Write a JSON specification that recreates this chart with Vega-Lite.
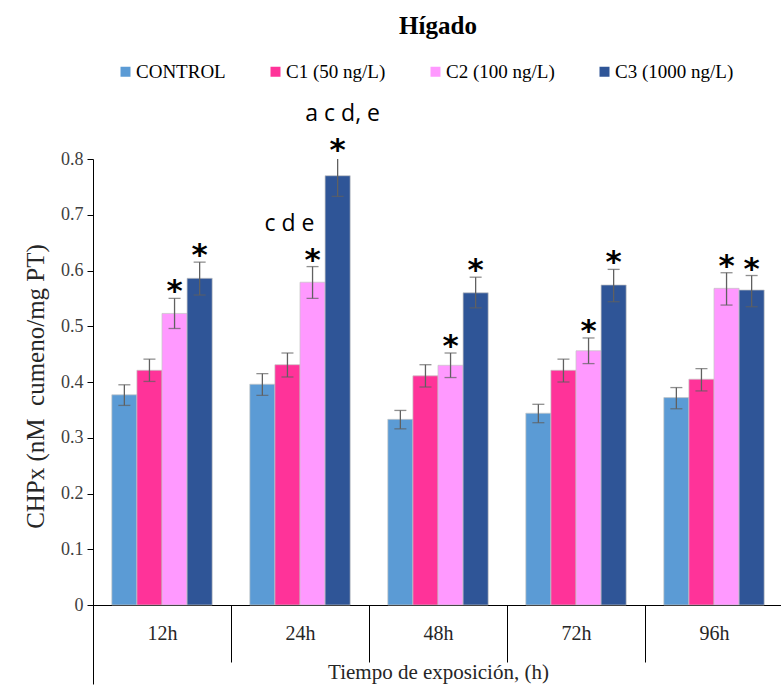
{
  "$schema": "https://vega.github.io/schema/vega-lite/v6.json",
  "width": 690,
  "height": 525,
  "autosize": {"type": "none"},
  "padding": {"left": 93, "top": 159, "right": 0, "bottom": 2},
  "title": {"text": "Hígado", "font": "Liberation Serif", "fontSize": 25, "fontWeight": "bold", "color": "#000000", "anchor": "middle", "offset": 23},
  "config": {"view": {"stroke": null}, "axis": {"grid": false}},
  "data": {"values": [
    {"t": "12h", "g": "CONTROL", "v": 0.377, "lo": 0.358, "hi": 0.395, "s": "", "L": ""},
    {"t": "12h", "g": "C1 (50 ng/L)", "v": 0.421, "lo": 0.401, "hi": 0.441, "s": "", "L": ""},
    {"t": "12h", "g": "C2 (100 ng/L)", "v": 0.523, "lo": 0.496, "hi": 0.550, "s": "*", "L": ""},
    {"t": "12h", "g": "C3 (1000 ng/L)", "v": 0.586, "lo": 0.556, "hi": 0.615, "s": "*", "L": ""},
    {"t": "24h", "g": "CONTROL", "v": 0.396, "lo": 0.376, "hi": 0.415, "s": "", "L": ""},
    {"t": "24h", "g": "C1 (50 ng/L)", "v": 0.431, "lo": 0.409, "hi": 0.452, "s": "", "L": ""},
    {"t": "24h", "g": "C2 (100 ng/L)", "v": 0.579, "lo": 0.550, "hi": 0.607, "s": "*", "L": "c d e"},
    {"t": "24h", "g": "C3 (1000 ng/L)", "v": 0.770, "lo": 0.733, "hi": 0.803, "s": "*", "L": "a c d, e"},
    {"t": "48h", "g": "CONTROL", "v": 0.333, "lo": 0.316, "hi": 0.349, "s": "", "L": ""},
    {"t": "48h", "g": "C1 (50 ng/L)", "v": 0.411, "lo": 0.391, "hi": 0.431, "s": "", "L": ""},
    {"t": "48h", "g": "C2 (100 ng/L)", "v": 0.430, "lo": 0.408, "hi": 0.452, "s": "*", "L": ""},
    {"t": "48h", "g": "C3 (1000 ng/L)", "v": 0.560, "lo": 0.533, "hi": 0.588, "s": "*", "L": ""},
    {"t": "72h", "g": "CONTROL", "v": 0.344, "lo": 0.327, "hi": 0.360, "s": "", "L": ""},
    {"t": "72h", "g": "C1 (50 ng/L)", "v": 0.421, "lo": 0.400, "hi": 0.441, "s": "", "L": ""},
    {"t": "72h", "g": "C2 (100 ng/L)", "v": 0.456, "lo": 0.433, "hi": 0.479, "s": "*", "L": ""},
    {"t": "72h", "g": "C3 (1000 ng/L)", "v": 0.574, "lo": 0.544, "hi": 0.602, "s": "*", "L": ""},
    {"t": "96h", "g": "CONTROL", "v": 0.372, "lo": 0.352, "hi": 0.390, "s": "", "L": ""},
    {"t": "96h", "g": "C1 (50 ng/L)", "v": 0.405, "lo": 0.384, "hi": 0.424, "s": "", "L": ""},
    {"t": "96h", "g": "C2 (100 ng/L)", "v": 0.568, "lo": 0.538, "hi": 0.596, "s": "*", "L": ""},
    {"t": "96h", "g": "C3 (1000 ng/L)", "v": 0.565, "lo": 0.535, "hi": 0.591, "s": "*", "L": ""}
  ]},
  "encoding": {
    "x": {
      "field": "t", "type": "nominal", "sort": ["12h", "24h", "48h", "72h", "96h"],
      "scale": {"paddingInner": 0, "paddingOuter": 0},
      "axis": {
        "orient": "bottom", "offset": -79, "domainColor": "#000000", "domainWidth": 1,
        "tickColor": "#000000", "tickBand": "extent", "tickSize": 57, "tickWidth": 1,
        "labelFont": "Liberation Serif", "labelFontSize": 20, "labelColor": "#262626", "labelAngle": 0, "labelPadding": -39,
        "title": "Tiempo de exposición, (h)", "titleFont": "Liberation Serif", "titleFontSize": 21, "titleFontWeight": "normal",
        "titleColor": "#262626", "titleY": 73, "titleBaseline": "alphabetic"
      }
    },
    "xOffset": {"field": "g", "type": "nominal", "sort": ["CONTROL", "C1 (50 ng/L)", "C2 (100 ng/L)", "C3 (1000 ng/L)"], "scale": {"paddingInner": 0, "paddingOuter": 0.75}}
  },
  "layer": [
    {
      "mark": {"type": "bar", "stroke": "#c4c4c4", "strokeWidth": 0.7},
      "encoding": {
        "y": {
          "field": "v", "type": "quantitative",
          "scale": {"domain": [-0.1417, 0.8], "nice": false, "zero": false},
          "axis": {
            "values": [0, 0.1, 0.2, 0.3, 0.4, 0.5, 0.6, 0.7, 0.8], "format": ".1~f",
            "domainColor": "#000000", "tickColor": "#000000", "tickSize": 6,
            "labelFont": "Liberation Serif", "labelFontSize": 18, "labelColor": "#404040", "labelPadding": 4,
            "title": "CHPx (nM \u00a0cumeno/mg PT)", "titleFont": "Liberation Serif", "titleFontSize": 25, "titleFontWeight": "normal",
            "titleColor": "#262626", "titleX": -50, "titleY": 227, "titleBaseline": "alphabetic", "titleAlign": "center", "titleAngle": 270
          }
        },
        "color": {
          "field": "g", "type": "nominal", "sort": ["CONTROL", "C1 (50 ng/L)", "C2 (100 ng/L)", "C3 (1000 ng/L)"],
          "scale": {"domain": ["CONTROL", "C1 (50 ng/L)", "C2 (100 ng/L)", "C3 (1000 ng/L)"], "range": ["#5B9BD5", "#FF3399", "#FF99FF", "#2F5597"]},
          "legend": {
            "orient": "none", "legendX": 23, "legendY": -97, "direction": "horizontal", "title": null,
            "symbolType": "square", "symbolSize": 100, "symbolStrokeWidth": 0, "labelOffset": 1,
            "labelFont": "Liberation Serif", "labelFontSize": 19, "labelColor": "#000000", "columnPadding": 40
          }
        }
      }
    },
    {
      "mark": {"type": "rule", "color": "#606060", "strokeWidth": 1.3, "clip": true},
      "encoding": {
        "y": {"field": "lo", "type": "quantitative", "title": "CHPx (nM \u00a0cumeno/mg PT)"},
        "y2": {"field": "hi"}
      }
    },
    {
      "mark": {"type": "tick", "color": "#606060", "thickness": 1.3, "size": 12, "clip": true},
      "encoding": {"y": {"field": "lo", "type": "quantitative", "title": "CHPx (nM \u00a0cumeno/mg PT)"}}
    },
    {
      "mark": {"type": "tick", "color": "#606060", "thickness": 1.3, "size": 12, "clip": true},
      "encoding": {"y": {"field": "hi", "type": "quantitative", "title": "CHPx (nM \u00a0cumeno/mg PT)"}}
    },
    {
      "transform": [{"filter": "datum.s == '*'"}],
      "mark": {"type": "text", "font": "DejaVu Sans", "fontSize": 31, "fontWeight": "bold", "baseline": "alphabetic", "align": "center", "dy": 3, "color": "#000000"},
      "encoding": {
        "y": {"field": "hi", "type": "quantitative", "title": "CHPx (nM \u00a0cumeno/mg PT)"},
        "text": {"field": "s"}
      }
    },
    {
      "transform": [{"filter": "datum.L == 'c d e'"}],
      "mark": {"type": "text", "font": "Open Sans", "fontSize": 23, "baseline": "alphabetic", "align": "center", "dy": -36, "dx": -23, "color": "#000000"},
      "encoding": {
        "y": {"field": "hi", "type": "quantitative", "title": "CHPx (nM \u00a0cumeno/mg PT)"},
        "text": {"field": "L"}
      }
    },
    {
      "transform": [{"filter": "datum.L == 'a c d, e'"}],
      "mark": {"type": "text", "font": "Open Sans", "fontSize": 23, "baseline": "alphabetic", "align": "center", "dy": -36, "dx": 5, "color": "#000000"},
      "encoding": {
        "y": {"field": "hi", "type": "quantitative", "title": "CHPx (nM \u00a0cumeno/mg PT)"},
        "text": {"field": "L"}
      }
    }
  ]
}
